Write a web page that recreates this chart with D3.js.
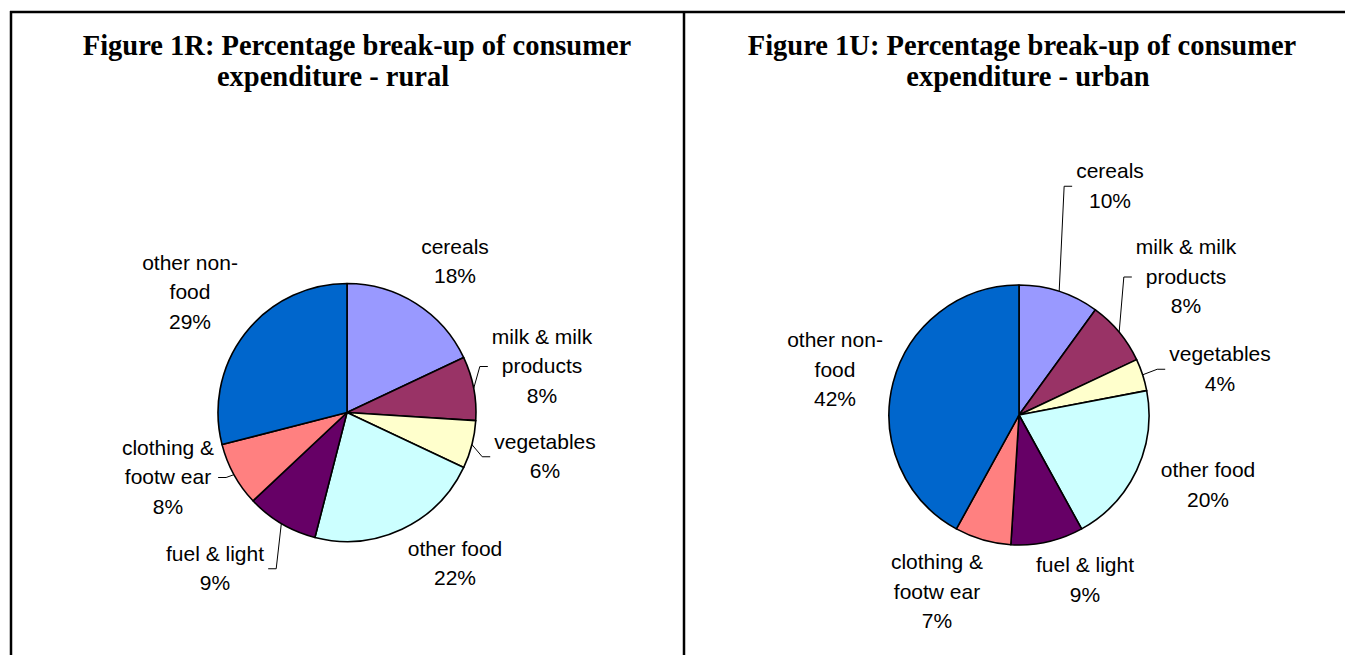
<!DOCTYPE html>
<html>
<head>
<meta charset="utf-8">
<script src="https://cdn.jsdelivr.net/npm/d3@7"></script>
<style>
  body { margin: 0; background: #fff; }
  svg { display: block; }
</style>
</head>
<body>
<svg></svg>
<script>
// data
var categories = ['cereals', 'milk & milk products', 'vegetables', 'other food',
                  'fuel & light', 'clothing & footwear', 'other non-food'];
var ruralShare = [18, 8, 6, 22, 9, 8, 29];
var urbanShare = [10, 8, 4, 20, 9, 7, 42];
// label text as wrapped in the picture
var ruralLabels = [['cereals'], ['milk & milk', 'products'], ['vegetables'], ['other food'],
                   ['fuel & light'], ['clothing &', 'footw ear'], ['other non-', 'food']];
var urbanLabels = [['cereals'], ['milk & milk', 'products'], ['vegetables'], ['other food'],
                   ['fuel & light'], ['clothing &', 'footw ear'], ['other non-', 'food']];
var colors = ['#9999FF', '#993366', '#FFFFCC', '#CCFFFF', '#660066', '#FF8080', '#0066CC'];

var width = 1345, height = 655;
var svg = d3.select('svg').attr('width', width).attr('height', height);

// frame of the two table cells
svg.append('line').attr('x1', 10).attr('x2', width).attr('y1', 12).attr('y2', 12)
    .attr('stroke', '#000').attr('stroke-width', 2.5);
svg.append('line').attr('x1', 11).attr('x2', 11).attr('y1', 11).attr('y2', height)
    .attr('stroke', '#000').attr('stroke-width', 2.5);
svg.append('line').attr('x1', 684).attr('x2', 684).attr('y1', 11).attr('y2', height)
    .attr('stroke', '#000').attr('stroke-width', 2.5);

var charts = [
    {
        title: ['Figure 1R: Percentage break-up of consumer', 'expenditure - rural'],
        titleX: [357, 333],
        values: ruralShare, labels: ruralLabels,
        cx: 347, cy: 412.5, r: 129,
        // label block: centre x offset, first baseline offset (from pie centre)
        labelPos: [[108, -159], [195, -69], [198, 36], [108, 143], [-132, 148], [-179, 42], [-157, -143]],
        leaders: [1, 2, 4, 5]
    },
    {
        title: ['Figure 1U:  Percentage break-up of consumer', 'expenditure - urban'],
        titleX: [1022, 1028],
        values: urbanShare, labels: urbanLabels,
        cx: 1019, cy: 415, r: 130,
        labelPos: [[91, -237], [167, -161], [201, -54], [189, 62], [66, 157], [-82, 154], [-184, -68]],
        leaders: [0, 1, 2]
    }
];

var pie = d3.pie().sort(null).value(function (d) { return d; });
var lineGap = 29.5;

charts.forEach(function (c) {
    var g = svg.append('g');

    // title
    c.title.forEach(function (t, i) {
        g.append('text')
            .attr('x', c.titleX[i])
            .attr('y', 55 + i * 31)
            .attr('text-anchor', 'middle')
            .style('font-family', '"Liberation Serif", "Times New Roman", serif')
            .style('font-weight', 'bold')
            .style('font-size', '28.5px')
            .text(t);
    });

    var arcs = pie(c.values);
    var arc = d3.arc().innerRadius(0).outerRadius(c.r);

    var pieG = g.append('g')
        .attr('transform', 'translate(' + c.cx + ',' + c.cy + ')');

    pieG.selectAll('.slice')
        .data(arcs)
        .enter()
        .append('path')
        .attr('class', 'slice')
        .attr('d', arc)
        .attr('fill', function (d, i) { return colors[i]; })
        .attr('stroke', '#000')
        .attr('stroke-width', 1.6)
        .attr('stroke-linejoin', 'round');

    // labels
    arcs.forEach(function (d, i) {
        var lines = c.labels[i].concat([c.values[i] + '%']);
        var lp = c.labelPos[i];
        var lg = pieG.append('g').attr('class', 'label');
        lines.forEach(function (s, k) {
            lg.append('text')
                .attr('x', lp[0])
                .attr('y', lp[1] + k * lineGap)
                .attr('text-anchor', 'middle')
                .style('font-family', '"Liberation Sans", Arial, sans-serif')
                .style('font-size', '21px')
                .attr('fill', '#000')
                .text(s);
        });

        if (c.leaders.indexOf(i) >= 0) {
            var box = lg.node().getBBox();
            var mid = (d.startAngle + d.endAngle) / 2;
            var sx = Math.sin(mid) * c.r, sy = -Math.cos(mid) * c.r;
            var right = sx > 0;
            var ex = right ? box.x - 4 : box.x + box.width + 4;
            var ey = box.y + box.height / 2 + 1;
            var bx = right ? ex - 8 : ex + 8;
            pieG.append('polyline')
                .attr('points', [[sx, sy], [bx, ey], [ex, ey]].map(function (p) { return p.join(','); }).join(' '))
                .attr('fill', 'none')
                .attr('stroke', '#000')
                .attr('stroke-width', 1);
        }
    });
});
</script>
</body>
</html>
